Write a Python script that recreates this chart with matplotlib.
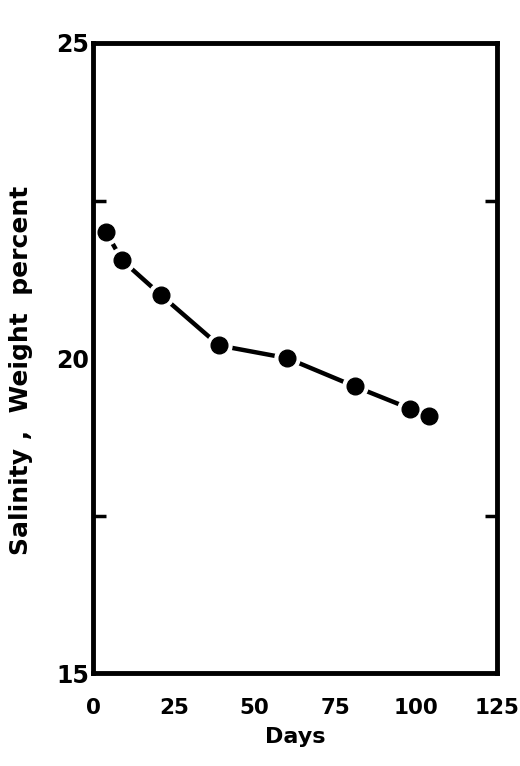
import matplotlib
matplotlib.use("Agg")
import matplotlib.pyplot as plt

# salinity vs time
days = [4, 9, 21, 39, 60, 81, 98, 104]
salinity = [22.0, 21.55, 21.0, 20.2, 20.0, 19.55, 19.2, 19.08]

x_ticks = [0, 25, 50, 75, 100, 125]
y_ticks = [15, 20, 25]

fig = plt.figure(figsize=(5.2, 7.66), dpi=100)
ax = fig.add_axes([0.179, 0.121, 0.777, 0.823])

# solid line, then white halos so the line breaks around each point
ax.plot(days, salinity, color="black", lw=3.2, solid_capstyle="butt", zorder=2)
ax.plot(days, salinity, "o", ms=18, color="white", mec="white", zorder=2.2,
        clip_on=False)
ax.plot(days, salinity, "o", ms=12, color="black", mec="black", zorder=4,
        clip_on=False)

ax.set_xlim(0, 125)
ax.set_ylim(15, 25)
ax.set_xticks(x_ticks)
ax.set_yticks(y_ticks)
ax.set_xticks([25, 50, 75, 100], minor=True)
ax.set_yticks([17.5, 20, 22.5], minor=True)

for side in ax.spines.values():
    side.set_linewidth(3.5)

ax.tick_params(axis="x", which="major", direction="in", length=0, pad=18,
               labelsize=15.5)
ax.tick_params(axis="y", which="major", direction="in", length=0, pad=3,
               labelsize=17)
ax.tick_params(which="minor", direction="in", length=9, width=2.5,
               top=True, right=True)
for lab in ax.get_xticklabels() + ax.get_yticklabels():
    lab.set_fontweight("bold")

ax.set_xlabel("Days", fontsize=16, fontweight="bold", labelpad=6)
ax.set_ylabel("Salinity ,  Weight  percent", fontsize=18, fontweight="bold")
ax.yaxis.set_label_coords(-0.148, 0.48)

fig.savefig("out.png", dpi=100)
